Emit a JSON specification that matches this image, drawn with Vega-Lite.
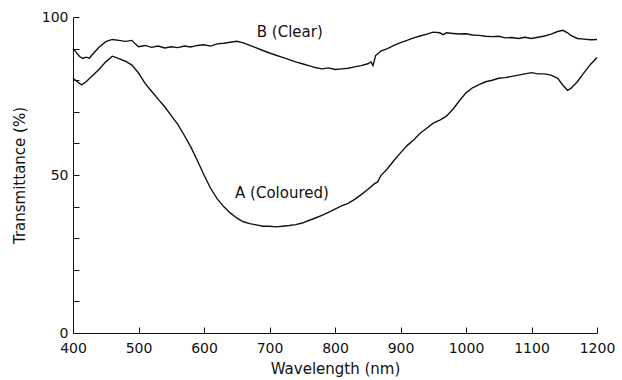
{
  "$schema": "https://vega.github.io/schema/vega-lite/v6.json",
  "width": 524,
  "height": 316,
  "autosize": "none",
  "padding": {"left": 73, "top": 17, "right": 25, "bottom": 47},
  "background": "white",
  "config": {
    "view": {"stroke": null},
    "font": "DejaVu Sans",
    "axis": {
      "grid": false,
      "domainColor": "#111",
      "tickColor": "#111",
      "labelColor": "#111",
      "titleColor": "#111",
      "labelFont": "DejaVu Sans",
      "titleFont": "DejaVu Sans",
      "labelFontSize": 14,
      "titleFontSize": 15,
      "titleFontWeight": "normal",
      "tickSize": -6,
      "labelOverlap": false,
      "labelFlush": false
    }
  },
  "datasets": {
    "curves": [
      {"s":"B","w":400,"t":90.0},{"s":"B","w":405,"t":88.8},{"s":"B","w":410,"t":87.5},{"s":"B","w":415,"t":86.9},{"s":"B","w":420,"t":87.3},{"s":"B","w":425,"t":87.0},{"s":"B","w":430,"t":88.2},{"s":"B","w":440,"t":90.5},{"s":"B","w":450,"t":92.2},{"s":"B","w":460,"t":92.9},{"s":"B","w":470,"t":92.6},{"s":"B","w":480,"t":92.3},{"s":"B","w":490,"t":92.6},{"s":"B","w":495,"t":91.5},{"s":"B","w":500,"t":90.6},{"s":"B","w":510,"t":91.0},{"s":"B","w":520,"t":90.4},{"s":"B","w":530,"t":90.8},{"s":"B","w":540,"t":90.2},{"s":"B","w":550,"t":90.6},{"s":"B","w":560,"t":90.3},{"s":"B","w":570,"t":90.8},{"s":"B","w":580,"t":90.5},{"s":"B","w":590,"t":91.0},{"s":"B","w":600,"t":91.2},{"s":"B","w":610,"t":90.8},{"s":"B","w":620,"t":91.5},{"s":"B","w":630,"t":91.7},{"s":"B","w":640,"t":92.0},{"s":"B","w":650,"t":92.3},{"s":"B","w":660,"t":91.8},{"s":"B","w":670,"t":91.0},{"s":"B","w":680,"t":90.2},{"s":"B","w":690,"t":89.4},{"s":"B","w":700,"t":88.6},{"s":"B","w":710,"t":87.9},{"s":"B","w":720,"t":87.2},{"s":"B","w":730,"t":86.5},{"s":"B","w":740,"t":85.8},{"s":"B","w":750,"t":85.2},{"s":"B","w":760,"t":84.6},{"s":"B","w":770,"t":84.0},{"s":"B","w":780,"t":83.6},{"s":"B","w":790,"t":83.9},{"s":"B","w":800,"t":83.4},{"s":"B","w":810,"t":83.6},{"s":"B","w":820,"t":83.8},{"s":"B","w":830,"t":84.2},{"s":"B","w":840,"t":84.6},{"s":"B","w":850,"t":85.2},{"s":"B","w":855,"t":85.8},{"s":"B","w":858,"t":84.6},{"s":"B","w":862,"t":87.8},{"s":"B","w":870,"t":89.2},{"s":"B","w":880,"t":90.0},{"s":"B","w":890,"t":91.0},{"s":"B","w":900,"t":91.9},{"s":"B","w":910,"t":92.6},{"s":"B","w":920,"t":93.4},{"s":"B","w":930,"t":94.0},{"s":"B","w":940,"t":94.6},{"s":"B","w":950,"t":95.2},{"s":"B","w":960,"t":95.0},{"s":"B","w":965,"t":94.4},{"s":"B","w":970,"t":95.0},{"s":"B","w":980,"t":94.8},{"s":"B","w":990,"t":94.6},{"s":"B","w":1000,"t":94.7},{"s":"B","w":1010,"t":94.3},{"s":"B","w":1020,"t":94.2},{"s":"B","w":1030,"t":93.9},{"s":"B","w":1040,"t":93.8},{"s":"B","w":1050,"t":93.9},{"s":"B","w":1060,"t":93.4},{"s":"B","w":1070,"t":93.5},{"s":"B","w":1080,"t":93.2},{"s":"B","w":1090,"t":93.6},{"s":"B","w":1100,"t":93.2},{"s":"B","w":1110,"t":93.6},{"s":"B","w":1120,"t":94.0},{"s":"B","w":1130,"t":94.6},{"s":"B","w":1140,"t":95.4},{"s":"B","w":1148,"t":95.8},{"s":"B","w":1155,"t":95.0},{"s":"B","w":1160,"t":94.2},{"s":"B","w":1170,"t":93.2},{"s":"B","w":1180,"t":93.0},{"s":"B","w":1190,"t":92.8},{"s":"B","w":1200,"t":92.9},
      {"s":"A","w":400,"t":80.6},{"s":"A","w":405,"t":79.8},{"s":"A","w":413,"t":78.5},{"s":"A","w":420,"t":79.5},{"s":"A","w":430,"t":81.5},{"s":"A","w":440,"t":83.5},{"s":"A","w":450,"t":85.8},{"s":"A","w":460,"t":87.6},{"s":"A","w":465,"t":87.2},{"s":"A","w":470,"t":86.8},{"s":"A","w":480,"t":86.0},{"s":"A","w":490,"t":84.8},{"s":"A","w":500,"t":82.3},{"s":"A","w":510,"t":79.0},{"s":"A","w":520,"t":76.5},{"s":"A","w":530,"t":74.0},{"s":"A","w":540,"t":71.6},{"s":"A","w":550,"t":68.8},{"s":"A","w":560,"t":66.0},{"s":"A","w":570,"t":62.5},{"s":"A","w":580,"t":58.8},{"s":"A","w":590,"t":54.5},{"s":"A","w":600,"t":50.0},{"s":"A","w":610,"t":45.8},{"s":"A","w":620,"t":42.5},{"s":"A","w":630,"t":40.0},{"s":"A","w":640,"t":38.0},{"s":"A","w":650,"t":36.4},{"s":"A","w":660,"t":35.2},{"s":"A","w":670,"t":34.6},{"s":"A","w":680,"t":34.2},{"s":"A","w":690,"t":33.8},{"s":"A","w":700,"t":33.8},{"s":"A","w":710,"t":33.6},{"s":"A","w":720,"t":33.8},{"s":"A","w":730,"t":34.0},{"s":"A","w":740,"t":34.3},{"s":"A","w":750,"t":34.8},{"s":"A","w":760,"t":35.6},{"s":"A","w":770,"t":36.4},{"s":"A","w":780,"t":37.2},{"s":"A","w":790,"t":38.2},{"s":"A","w":800,"t":39.2},{"s":"A","w":810,"t":40.2},{"s":"A","w":820,"t":41.0},{"s":"A","w":830,"t":42.3},{"s":"A","w":840,"t":43.8},{"s":"A","w":850,"t":45.4},{"s":"A","w":860,"t":47.2},{"s":"A","w":865,"t":47.8},{"s":"A","w":870,"t":49.8},{"s":"A","w":880,"t":52.0},{"s":"A","w":890,"t":54.6},{"s":"A","w":900,"t":57.0},{"s":"A","w":910,"t":59.3},{"s":"A","w":920,"t":61.1},{"s":"A","w":930,"t":63.2},{"s":"A","w":940,"t":64.8},{"s":"A","w":950,"t":66.4},{"s":"A","w":960,"t":67.4},{"s":"A","w":970,"t":68.6},{"s":"A","w":980,"t":70.8},{"s":"A","w":990,"t":73.5},{"s":"A","w":1000,"t":76.0},{"s":"A","w":1010,"t":77.6},{"s":"A","w":1020,"t":78.6},{"s":"A","w":1030,"t":79.5},{"s":"A","w":1040,"t":80.0},{"s":"A","w":1050,"t":80.6},{"s":"A","w":1060,"t":80.8},{"s":"A","w":1070,"t":81.2},{"s":"A","w":1080,"t":81.6},{"s":"A","w":1090,"t":82.0},{"s":"A","w":1100,"t":82.4},{"s":"A","w":1110,"t":82.0},{"s":"A","w":1120,"t":82.0},{"s":"A","w":1130,"t":81.6},{"s":"A","w":1140,"t":80.6},{"s":"A","w":1148,"t":78.4},{"s":"A","w":1155,"t":76.8},{"s":"A","w":1160,"t":77.4},{"s":"A","w":1170,"t":79.5},{"s":"A","w":1180,"t":82.3},{"s":"A","w":1190,"t":85.0},{"s":"A","w":1200,"t":87.2}
    ],
    "labels": [
      {"w": 731, "t": 95.2, "text": "B (Clear)"},
      {"w": 719, "t": 44.3, "text": "A (Coloured)"}
    ]
  },
  "layer": [
    {
      "data": {"name": "curves"},
      "mark": {"type": "line", "color": "#111", "strokeWidth": 1.4},
      "encoding": {
        "x": {
          "field": "w", "type": "quantitative",
          "scale": {"domain": [400, 1200], "nice": false},
          "axis": {"title": "Wavelength (nm)", "format": "d", "tickCount": 9, "values": [400,500,600,700,800,900,1000,1100,1200], "labelPadding": 14, "titlePadding": 6}
        },
        "y": {
          "field": "t", "type": "quantitative",
          "scale": {"domain": [0, 100], "nice": false},
          "axis": {"title": "Transmittance (%)", "format": "d", "tickCount": 11, "values": [0,10,20,30,40,50,60,70,80,90,100], "labelExpr": "datum.value % 50 === 0 ? datum.label : ''", "labelPadding": 11, "titlePadding": 14}
        },
        "detail": {"field": "s", "type": "nominal"}
      }
    },
    {
      "data": {"name": "labels"},
      "mark": {"type": "text", "fontSize": 15, "font": "DejaVu Sans", "color": "#111"},
      "encoding": {
        "x": {"field": "w", "type": "quantitative"},
        "y": {"field": "t", "type": "quantitative"},
        "text": {"field": "text"}
      }
    }
  ]
}
